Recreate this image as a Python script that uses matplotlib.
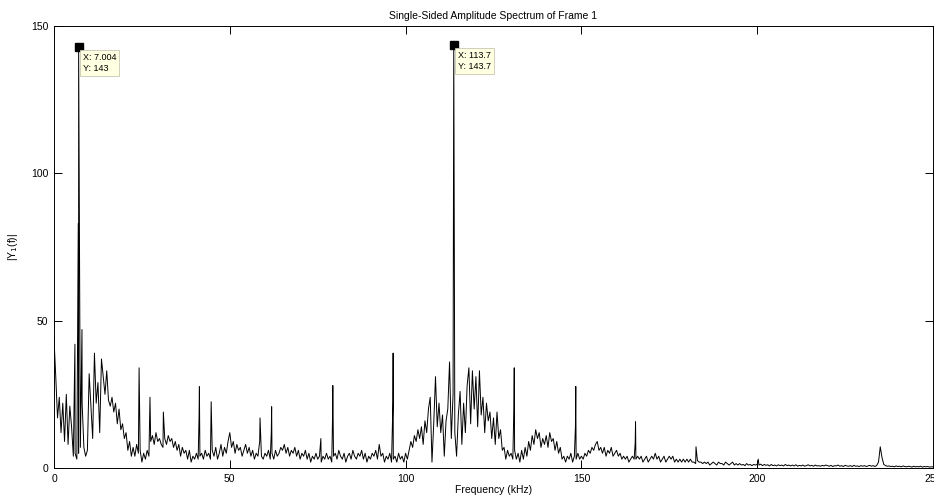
import matplotlib
matplotlib.use('Agg')
import numpy as np
import matplotlib.pyplot as plt

plt.rcParams['font.family'] = ['Liberation Sans', 'DejaVu Sans']

# base spectrum, sampled every 0.5 kHz from 0 to 250 kHz
step = 0.5
noise_0_50 = [44, 31, 17, 24, 12, 22, 9, 25, 8, 21, 14, 4, 5, 3, 5, 7, 22, 7, 4, 6,
              32, 21, 10, 39, 22, 29, 12, 37, 31, 25, 33, 23, 21, 24, 19, 22, 15, 20, 13, 15,
              10, 12, 6, 9, 4, 7, 4, 8, 5, 6, 2, 5, 3, 6, 4, 9, 11, 8, 12, 9,
              10, 8, 7, 10, 8, 11, 9, 10, 7, 9, 6, 8, 4, 7, 5, 6, 3, 6, 2, 4,
              3, 5, 3, 4, 5, 3, 6, 4, 5, 3, 6, 4, 7, 3, 5, 8, 4, 7, 5, 9]
noise_50_100 = [12, 7, 9, 5, 8, 6, 7, 4, 6, 8, 5, 7, 4, 6, 3, 5, 4, 9, 4, 3,
                5, 4, 6, 3, 5, 3, 6, 4, 5, 7, 6, 8, 5, 7, 4, 6, 5, 7, 4, 6,
                3, 5, 4, 6, 3, 5, 2, 4, 3, 5, 3, 4, 2, 4, 3, 5, 3, 4, 2, 4,
                5, 3, 6, 4, 3, 5, 2, 4, 5, 3, 6, 4, 3, 5, 4, 6, 3, 5, 2, 4,
                3, 5, 4, 6, 3, 8, 4, 5, 2, 4, 3, 5, 2, 3, 4, 2, 5, 3, 4, 2]
noise_100_150 = [5, 3, 6, 9, 7, 11, 9, 13, 10, 14, 8, 16, 12, 20, 24, 2, 15, 31, 14, 22,
                 12, 18, 4, 16, 20, 36, 10, 25, 12, 4, 18, 26, 8, 22, 12, 28, 34, 15, 33, 20,
                 31, 14, 33, 18, 24, 12, 22, 16, 19, 10, 17, 8, 19, 10, 13, 6, 7, 3, 6, 4,
                 5, 3, 6, 3, 5, 2, 6, 3, 7, 4, 9, 6, 11, 8, 13, 10, 12, 7, 10, 8,
                 11, 7, 12, 9, 10, 6, 9, 5, 7, 3, 4, 2, 4, 3, 5, 2, 4, 3, 5, 3]
noise_150_200 = [4, 3, 5, 4, 6, 5, 7, 6, 8, 9, 6, 7, 5, 7, 4, 6, 5, 7, 4, 5,
                 6, 4, 5, 3, 4, 3, 4, 2, 3, 4, 3, 3, 4, 3, 4, 2, 3, 4, 2, 3,
                 4, 3, 5, 3, 4, 2, 3, 4, 2, 3, 4, 3, 4, 2, 3, 2, 3, 2, 3, 2,
                 3, 2, 3, 2, 2, 1.5, 2.5, 2, 2, 1.5, 2, 1.5, 2, 1, 1.5, 2, 1.5, 1, 2, 1.5,
                 1.5, 1, 2, 1.5, 1, 1.5, 2, 1, 1.5, 1, 1.5, 1, 1.2, 0.8, 1.5, 1, 1.2, 0.8, 1.2, 1]
noise_200_250 = [1.2, 1, 1.3, 0.8, 1.2, 0.9, 1.1, 0.7, 1.2, 0.8, 1, 0.7, 1.1, 0.8, 1, 0.7, 1.2, 0.8, 1, 0.7,
                 1.0, 0.7, 1.1, 0.6, 0.9, 0.7, 1.0, 0.6, 0.8, 1.1, 0.7, 0.9, 0.6, 1.0, 0.7, 0.8, 0.6, 0.9, 0.7, 1.0,
                 0.8, 0.6, 0.9, 0.5, 0.8, 0.7, 1.0, 0.6, 0.8, 0.5, 0.9, 0.7, 0.6, 0.8, 0.5, 0.9, 0.6, 0.7, 0.5, 0.8,
                 0.6, 0.8, 0.5, 0.7, 0.9, 0.6, 0.8, 0.5, 0.9, 2.0, 7.2, 3.5, 1.2, 0.8, 0.6, 0.7, 0.5, 0.6, 0.4, 0.7,
                 0.5, 0.6, 0.4, 0.7, 0.5, 0.4, 0.6, 0.5, 0.3, 0.6, 0.4, 0.5, 0.4, 0.6, 0.3, 0.5, 0.4, 0.5, 0.3, 0.4, 0.4]

# narrow tones sitting between the 0.5 kHz samples
spike_f = [5.95, 6.9, 7.004, 7.96, 24.2, 27.3, 31.1, 41.25, 41.35, 44.6, 44.7,
           58.6, 61.8, 61.9, 75.9, 79.2, 79.3, 96.4, 96.45, 113.6, 113.7,
           130.8, 130.9, 148.3, 148.4, 165.3, 165.4, 182.6, 200.3]
spike_y = [42, 83, 143, 47, 34, 24, 19, 17, 27.6, 14, 22.5,
           17, 12, 20.8, 10, 16, 28, 22.6, 39, 78, 143.7,
           21, 34, 14, 27.7, 8.6, 15.7, 7.2, 3]

# data tips
tip_f = [7.004, 113.7]
tip_y = [143, 143.7]
tip_txt = ['X: 7.004\nY: 143', 'X: 113.7\nY: 143.7']

base = noise_0_50 + noise_50_100 + noise_100_150 + noise_150_200 + noise_200_250
f = list(np.arange(len(base)) * step) + spike_f
y = base + spike_y
order = np.argsort(f, kind='stable')
f = np.array(f)[order]
y = np.array(y)[order]

fig = plt.figure(figsize=(9.34, 4.97), dpi=100)
ax = fig.add_axes([54/934, 29/497, 879/934, 442/497])
ax.plot(f, y, color='black', lw=0.7)

for xf, yf, t in zip(tip_f, tip_y, tip_txt):
    ax.plot([xf], [yf], marker='s', color='black', ms=5.5, mec='black')
    ax.annotate(t, (xf, yf), xytext=(3, -4.5), textcoords='offset points',
                ha='left', va='top', fontsize=6.5, linespacing=1.35,
                bbox=dict(boxstyle='square,pad=0.35', fc='#ffffe1', ec='#c8c8b4', lw=0.6))

ax.set_xlim(0, 250)
ax.set_ylim(0, 150)
ax.set_xticks([0, 50, 100, 150, 200, 250])
ax.set_yticks([0, 50, 100, 150])
ax.tick_params(direction='in', length=6, width=0.7, labelsize=7.5, top=True, right=True, pad=4)
for s in ax.spines.values():
    s.set_linewidth(0.7)
ax.set_xlabel('Frequency (kHz)', fontsize=7.5, labelpad=1)
ax.set_ylabel('|Y$_1$(f)|', fontsize=7.5, labelpad=8)
ax.set_title('Single-Sided Amplitude Spectrum of Frame 1', fontsize=7.5, pad=5)

fig.savefig('out.png', dpi=100)
